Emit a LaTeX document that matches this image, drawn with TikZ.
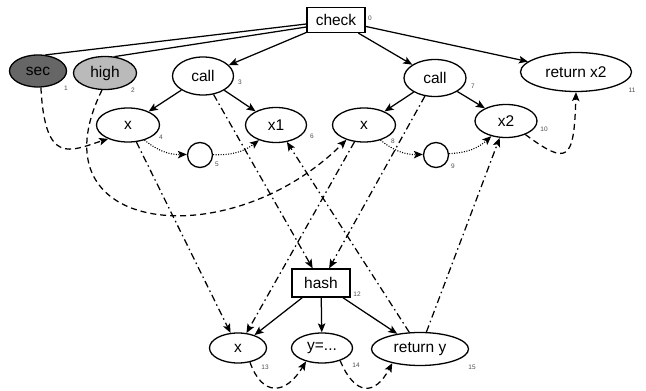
\documentclass[tikz,border=0pt]{standalone}
\usepackage{fontspec}
\setmainfont{Liberation Sans}
\usetikzlibrary{arrows.meta,shapes.geometric}

\begin{document}
\begin{tikzpicture}[x=1pt,y=1pt,
  every node/.style={font=\fontsize{15.5}{18}\selectfont},
  op/.style={draw,ellipse,line width=1.3pt,inner sep=0pt},
  box/.style={draw,rectangle,line width=1.3pt,inner sep=0pt},
  num/.style={font=\fontsize{6.5}{7}\selectfont,text=black!70,inner sep=0pt},
  tree/.style={line width=1.25pt,-{Stealth[length=9pt,width=7.5pt,inset=2pt]}},
  flow/.style={tree,dash pattern=on 6pt off 4pt},
  dep/.style={tree,dash pattern=on 7pt off 3.5pt on 1.5pt off 3.5pt},
  seq/.style={tree,line width=1.1pt,dash pattern=on 1pt off 1.5pt},
]

\useasboundingbox (0,0) rectangle (646,391);

\node[box,minimum width=58pt,minimum height=25pt] (check) at (336,371) {check};

\node[op,fill=black!60,minimum width=57pt,minimum height=32pt] (sec) at (38,320) {sec};
\node[op,fill=black!27,minimum width=63pt,minimum height=33pt] (high) at (105,318) {high};

\node[op,minimum width=61pt,minimum height=38pt] (call3) at (203,315) {call};
\node[op,minimum width=63pt,minimum height=34pt] (x4) at (128,266) {x};
\node[op,circle,minimum size=25pt] (c5) at (200,236) {};
\node[op,minimum width=61pt,minimum height=35pt] (x1) at (276,266) {x1};

\node[op,minimum width=62pt,minimum height=37pt] (call7) at (435,313) {call};
\node[op,minimum width=63pt,minimum height=34pt] (x8) at (364,266) {x};
\node[op,circle,minimum size=25pt] (c9) at (436,236) {};
\node[op,minimum width=62pt,minimum height=33pt] (x2) at (506,270) {x2};

\node[op,minimum width=111pt,minimum height=39pt] (rx2) at (576,319) {return x2};

\node[box,minimum width=58pt,minimum height=28pt] (hash) at (321,108) {hash};
\node[op,minimum width=57pt,minimum height=30pt] (x13) at (238,43) {x};
\node[op,minimum width=61pt,minimum height=30pt] (y14) at (322,43) {y=...};
\node[op,minimum width=97pt,minimum height=33pt] (ry) at (420,42) {return y};

\node[num] (n0) at (370,373) {0};
\node[num] (n1) at (66,303) {1};
\node[num] (n2) at (133,301) {2};
\node[num] (n3) at (240,309) {3};
\node[num] (n4) at (161,254) {4};
\node[num] (n5) at (217,227) {5};
\node[num] (n6) at (312,255) {6};
\node[num] (n7) at (473,305) {7};
\node[num] (n8) at (393,250) {8};
\node[num] (n9) at (453,225) {9};
\node[num] (n10) at (544,262) {10};
\node[num] (n11) at (632,301) {11};
\node[num] (n12) at (357,97) {12};
\node[num] (n13) at (265,24) {13};
\node[num] (n14) at (356,26) {14};
\node[num] (n15) at (472,24) {15};

\draw[line width=1.25pt] ([yshift=-4pt]check.west) -- (sec.65);
\draw[line width=1.25pt] ([yshift=-7pt]check.west) -- (high.60);

\draw[tree] (check) -- (call3);
\draw[tree] (check) -- (call7);
\draw[tree] (check) -- (rx2);
\draw[tree] (call3) -- (x4);
\draw[tree] (call3) -- (x1);
\draw[tree] (call7) -- (x8);
\draw[tree] (call7) -- (x2);
\draw[tree] (hash) -- (x13);
\draw[tree] (hash) -- (y14);
\draw[tree] (hash) -- (ry);

\draw[seq] (x4) to[bend right=20] (c5);
\draw[seq] (c5) to[bend right=20] (x1);
\draw[seq] (x8) to[bend right=20] (c9);
\draw[seq] (c9) to[bend right=20] (x2);

\draw[flow] (sec.-80) .. controls (45,225) and (70,240) .. (x4.215);
\draw[flow] (high.-100) .. controls (30,155) and (230,135) .. (x8.220);
\draw[flow] (x2.-35) .. controls (568,225) and (574,230) .. (rx2.south);
\draw[flow] (x13.-50) .. controls (262,-5) and (285,-5) .. (y14.220);
\draw[flow] (y14.-35) .. controls (355,-5) and (375,-5) .. (ry.207);

\draw[dep] (x4) -- (x13);
\draw[dep] (call3) -- (hash);
\draw[dep] (call7) -- (hash);
\draw[dep] (x8) -- (x13);
\draw[dep] (ry) -- (x1);
\draw[dep] (ry) -- (x2);

\end{tikzpicture}
\end{document}
